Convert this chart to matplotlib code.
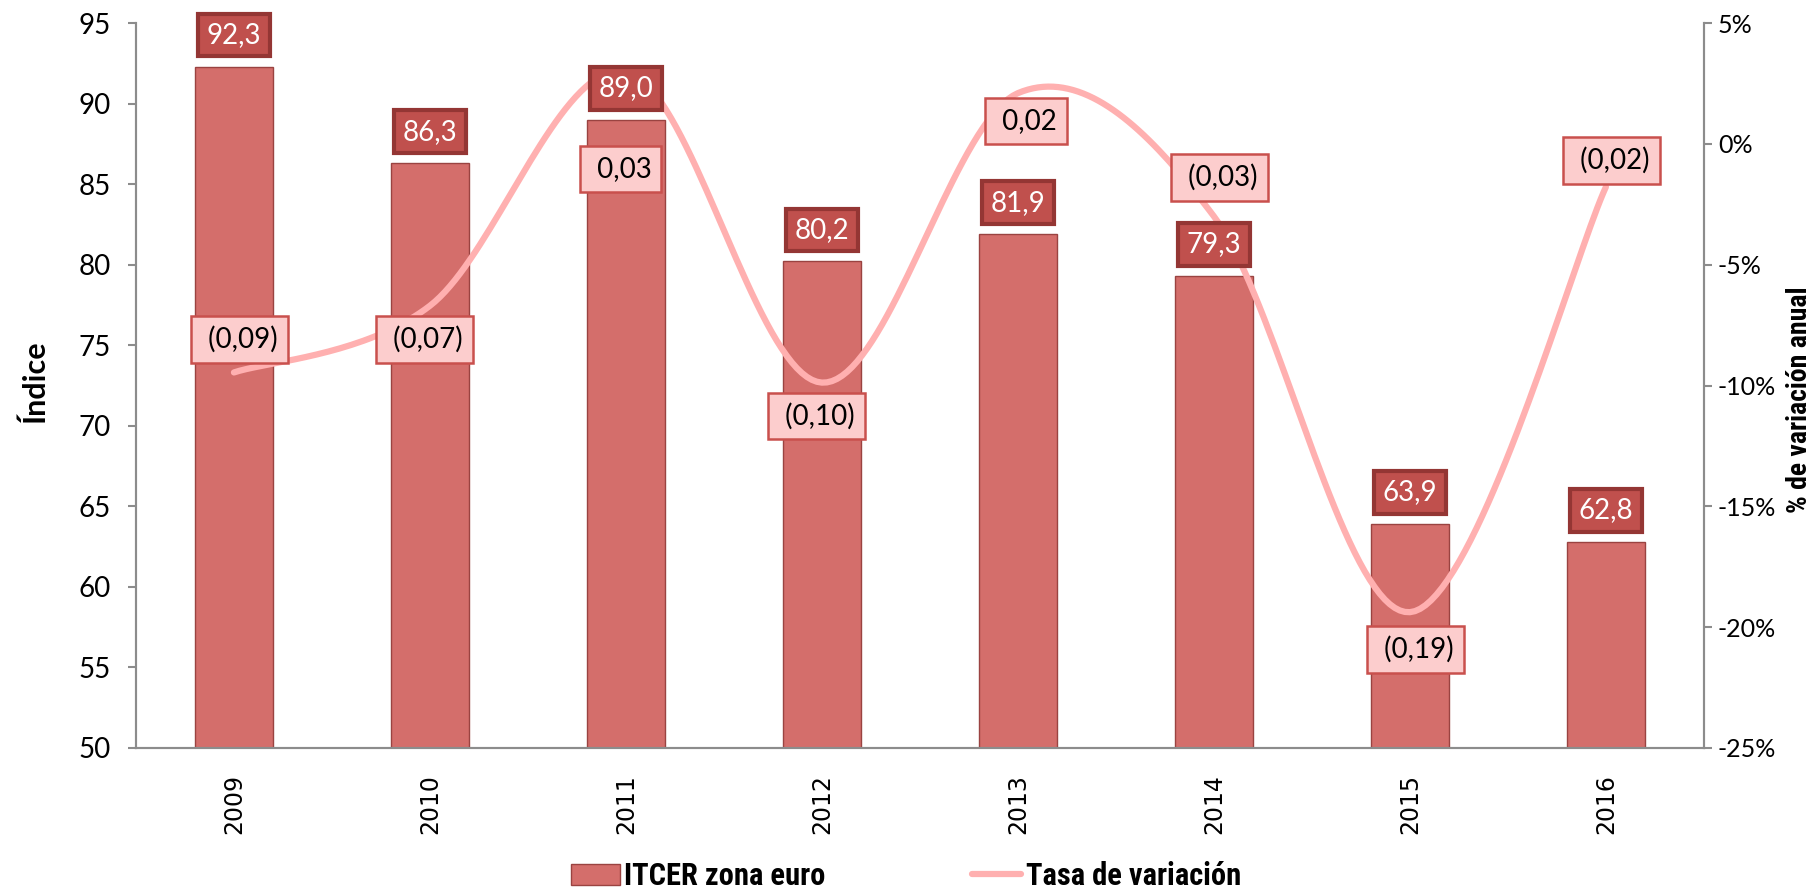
import numpy as np
import matplotlib.pyplot as plt
from matplotlib.ticker import FuncFormatter

# Data
years = ['2009', '2010', '2011', '2012', '2013', '2014', '2015', '2016']
itcer = [92.3, 86.3, 89.0, 80.2, 81.9, 79.3, 63.9, 62.8]
tasa = [-0.0946, -0.067, 0.030, -0.0988, 0.021, -0.030, -0.1938, -0.0178]

# label offsets for the rate labels (points, dx, dy)
tasa_off = [(4, 24), (-4, -24), (-4, -70), (-4, -24), (6, -20), (4, 28), (4, -27), (4, 19)]

bar_col = '#D46E6B'
bar_edge = '#9A4341'
lab_face = '#C0504D'
lab_edge = '#943634'
line_col = '#FFB0B0'
spine_col = '#8C8C8C'
num_font = ['Lato', 'DejaVu Sans']
cond_font = ['Roboto Condensed', 'Open Sans Condensed', 'DejaVu Sans Condensed',
             'Liberation Sans Narrow', 'Roboto', 'DejaVu Sans']


def smooth(xs, ys, n=40):
    # bezier smoothing similar to the spreadsheet "smoothed line"
    pts = np.column_stack([xs, ys]).astype(float)
    P = np.vstack([pts[0], pts, pts[-1]])
    t = np.linspace(0, 1, n)[:, None]
    out = []
    for i in range(len(pts) - 1):
        p0, p1, p2, p3 = P[i], P[i + 1], P[i + 2], P[i + 3]
        c1 = p1 + (p2 - p0) / 6
        c2 = p2 - (p3 - p1) / 6
        seg = (1 - t) ** 3 * p1 + 3 * (1 - t) ** 2 * t * c1 + 3 * (1 - t) * t ** 2 * c2 + t ** 3 * p2
        out.append(seg if i == 0 else seg[1:])
    return np.vstack(out)


def fmt_rate(v):
    s = f"{abs(v):.2f}".replace('.', ',')
    return f" ({s})" if v < 0 else f" {s}"


fig = plt.figure(figsize=(18.1, 8.93), dpi=100)
ax = fig.add_axes([0.0751, 0.1624, 0.8663, 0.8118])
ax2 = ax.twinx()

x = np.arange(len(years))
bars = ax.bar(x, itcer, width=0.40, color=bar_col, edgecolor=bar_edge, linewidth=1.0,
              label='ITCER zona euro', zorder=2)
ax.set_xlim(-0.5, len(years) - 0.5)
ax.set_ylim(50, 95)
ax.set_yticks(np.arange(50, 96, 5))

curve = smooth(x, tasa)
ax2.plot(curve[:, 0], curve[:, 1], color=line_col, lw=4.5, solid_capstyle='round',
         label='Tasa de variación', zorder=3)
ax2.set_ylim(-0.25, 0.05)
ax2.set_yticks(np.arange(-0.25, 0.051, 0.05))
ax2.yaxis.set_major_formatter(FuncFormatter(lambda v, p: f"{round(v * 100) + 0:.0f}%"))

for a in (ax, ax2):
    a.spines['top'].set_visible(False)
    for s in ('left', 'right', 'bottom'):
        a.spines[s].set_color(spine_col)
        a.spines[s].set_linewidth(1.5)
    a.tick_params(axis='y', length=6, width=1.5, color=spine_col, labelsize=20, pad=12)
    for lbl in a.get_yticklabels():
        lbl.set_family(num_font)
ax2.tick_params(axis='y', pad=4, labelsize=18)

ax.set_xticks(x)
ax.set_xticklabels(years, rotation=90, fontsize=17, family='DejaVu Sans')
ax.tick_params(axis='x', length=0, pad=19)

# bar value labels
for xi, v in zip(x, itcer):
    ax2.annotate(f"{v:.1f}".replace('.', ','), xy=(xi, v), xycoords=ax.transData,
                 xytext=(0, 22.7), textcoords='offset points', ha='center', va='center',
                 fontsize=20, family=num_font, color='white', zorder=6,
                 bbox=dict(boxstyle='square,pad=0.3', fc=lab_face, ec=lab_edge, lw=3))

# rate labels
for xi, v, (dx, dy) in zip(x, tasa, tasa_off):
    ax2.annotate(fmt_rate(v), xy=(xi, v), xytext=(dx, dy), textcoords='offset points',
                 ha='center', va='center', fontsize=20, family=num_font, color='black', zorder=5,
                 bbox=dict(boxstyle='square,pad=0.36', fc='#FCCDCD', ec='#C9504D', lw=1.8))

fig.text(35 / 1810, 1 - 381 / 893, 'Índice', rotation=90, ha='center', va='center',
         fontsize=22, fontweight='bold', family=num_font)
fig.text(1799 / 1810, 1 - 400 / 893, '% de variación anual', rotation=90, ha='center', va='center',
         fontsize=20, fontweight='bold', family=cond_font)

h1, l1 = ax.get_legend_handles_labels()
h2, l2 = ax2.get_legend_handles_labels()
fig.legend(h1 + h2, l1 + l2, loc='center', bbox_to_anchor=(906 / 1810, 1 - 876 / 893), ncol=2,
           frameon=False, prop=dict(family=cond_font, weight='bold', size=22),
           handlelength=1.6, handletextpad=0.15, columnspacing=4.8, borderpad=0.2)

fig.savefig('out.png', dpi=100)
